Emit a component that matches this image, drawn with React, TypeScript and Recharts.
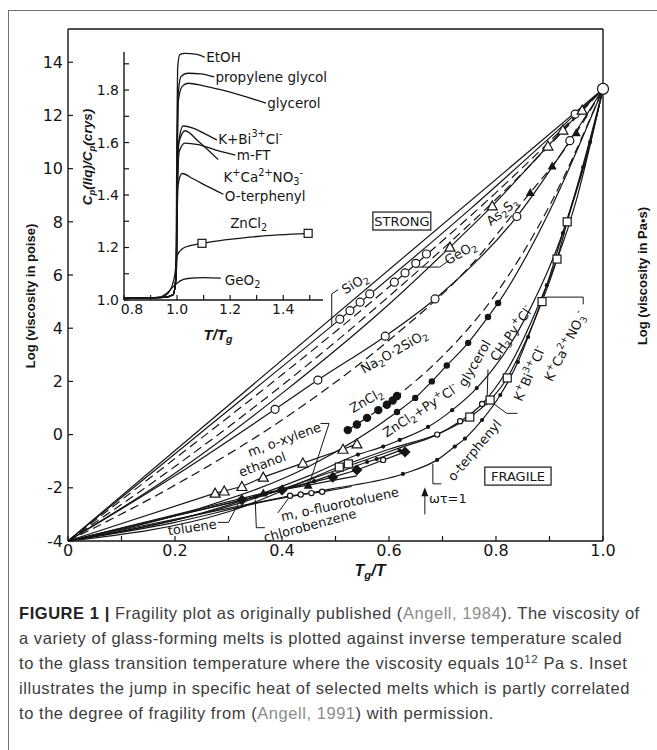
import React from "react";
import { ComposedChart, Line, Scatter, XAxis, YAxis } from "recharts";

type Pt = { x: number; y: number };
type Note = { x: number; y: number; text: string; angle?: number; box?: boolean };

const INK = "#161616";
const FONT = "'DejaVu Sans', sans-serif";

// ---------- main plot: log viscosity (poise) vs Tg/T ----------
const X_TICKS = [0, 0.1, 0.2, 0.3, 0.4, 0.5, 0.6, 0.7, 0.8, 0.9, 1.0];
const POISE_TICKS = [-4, -2, 0, 2, 4, 6, 8, 10, 12, 14];
const PAS_TICKS = [-4, -2, 0, 2, 4, 6, 8, 10, 12];
const POISE_TOP = 15.25;

// curves (log poise)
const STRAIGHT: Pt[] = [{ x: 0, y: -4 }, { x: 1, y: 13 }];
const SIO2_LINE: Pt[] = [{ x: 0, y: -4 }, { x: 0.25, y: 0.1 }, { x: 0.5, y: 4.2 }, { x: 0.75, y: 8.45 }, { x: 1, y: 13 }];
const GEO2_LINE: Pt[] = [{ x: 0, y: -4 }, { x: 0.2, y: -0.9 }, { x: 0.4, y: 2.25 }, { x: 0.6, y: 5.55 }, { x: 0.8, y: 9.1 }, { x: 1, y: 13 }];
const DASH_B: Pt[] = [{ x: 0, y: -4 }, { x: 0.2, y: -1.2 }, { x: 0.4, y: 1.85 }, { x: 0.6, y: 5.2 }, { x: 0.8, y: 8.85 }, { x: 1, y: 13 }];
const TRI_LINE: Pt[] = [{ x: 0, y: -4 }, { x: 0.2, y: -1.45 }, { x: 0.4, y: 1.55 }, { x: 0.6, y: 4.9 }, { x: 0.714, y: 7.05 }, { x: 0.793, y: 8.6 }, { x: 0.897, y: 10.85 }, { x: 0.961, y: 12.2 }, { x: 1, y: 13 }];
const NA_LINE: Pt[] = [{ x: 0, y: -4 }, { x: 0.2, y: -1.55 }, { x: 0.387, y: 0.95 }, { x: 0.467, y: 2.05 }, { x: 0.593, y: 3.7 }, { x: 0.686, y: 5.1 }, { x: 0.839, y: 8.2 }, { x: 0.938, y: 11.05 }, { x: 1, y: 13 }];
const AS_LINE: Pt[] = [{ x: 0, y: -4 }, { x: 0.2, y: -1.9 }, { x: 0.4, y: 0.55 }, { x: 0.6, y: 3.55 }, { x: 0.75, y: 6.3 }, { x: 0.864, y: 9.1 }, { x: 0.905, y: 10.1 }, { x: 0.95, y: 11.35 }, { x: 1, y: 13 }];
const ZN_LINE: Pt[] = [{ x: 0.523, y: 0.17 }, { x: 0.615, y: 1.45 }, { x: 0.7, y: 2.95 }, { x: 0.8, y: 5.3 }, { x: 0.9, y: 8.6 }, { x: 1, y: 13 }];
const GLY_LINE: Pt[] = [{ x: 0, y: -4 }, { x: 0.25, y: -2.75 }, { x: 0.45, y: -1.2 }, { x: 0.615, y: 0.85 }, { x: 0.649, y: 1.38 }, { x: 0.68, y: 2.0 }, { x: 0.708, y: 2.6 }, { x: 0.748, y: 3.45 }, { x: 0.785, y: 4.42 }, { x: 0.804, y: 4.95 }, { x: 0.9, y: 8.4 }, { x: 1, y: 13 }];
const PYCL_LINE: Pt[] = [{ x: 0, y: -4 }, { x: 0.25, y: -2.95 }, { x: 0.45, y: -1.55 }, { x: 0.542, y: -0.75 }, { x: 0.589, y: -0.45 }, { x: 0.62, y: -0.2 }, { x: 0.673, y: 0.29 }, { x: 0.718, y: 0.92 }, { x: 0.764, y: 1.75 }, { x: 0.85, y: 4.2 }, { x: 0.93, y: 7.9 }, { x: 1, y: 13 }];
const CH3_LINE: Pt[] = [{ x: 0, y: -4 }, { x: 0.3, y: -2.7 }, { x: 0.5, y: -1.35 }, { x: 0.62, y: -0.5 }, { x: 0.69, y: 0.0 }, { x: 0.733, y: 0.5 }, { x: 0.774, y: 1.15 }, { x: 0.82, y: 2.4 }, { x: 0.88, y: 4.9 }, { x: 0.95, y: 8.8 }, { x: 1, y: 13 }];
const KCA_LINE: Pt[] = [{ x: 0, y: -4 }, { x: 0.3, y: -2.9 }, { x: 0.507, y: -1.22 }, { x: 0.6, y: -0.55 }, { x: 0.7, y: 0.1 }, { x: 0.751, y: 0.66 }, { x: 0.789, y: 1.3 }, { x: 0.821, y: 2.13 }, { x: 0.855, y: 3.5 }, { x: 0.886, y: 5.0 }, { x: 0.914, y: 6.6 }, { x: 0.933, y: 8.0 }, { x: 0.97, y: 10.5 }, { x: 1, y: 13 }];
const OTP_LINE: Pt[] = [{ x: 0, y: -4 }, { x: 0.2, y: -3.3 }, { x: 0.359, y: -2.55 }, { x: 0.49, y: -2.05 }, { x: 0.626, y: -1.48 }, { x: 0.69, y: -0.95 }, { x: 0.723, y: -0.45 }, { x: 0.742, y: -0.15 }, { x: 0.774, y: 0.55 }, { x: 0.808, y: 1.49 }, { x: 0.841, y: 2.73 }, { x: 0.86, y: 3.67 }, { x: 0.895, y: 5.62 }, { x: 0.925, y: 7.58 }, { x: 0.963, y: 10.06 }, { x: 0.976, y: 11.0 }, { x: 1, y: 13 }];
const ETH_LINE: Pt[] = [{ x: 0, y: -4 }, { x: 0.275, y: -2.2 }, { x: 0.292, y: -2.12 }, { x: 0.325, y: -1.95 }, { x: 0.365, y: -1.6 }, { x: 0.439, y: -1.07 }, { x: 0.514, y: -0.55 }, { x: 0.54, y: -0.35 }];
const XYL_LINE: Pt[] = [{ x: 0, y: -4 }, { x: 0.365, y: -2.2 }, { x: 0.449, y: -1.9 }, { x: 0.54, y: -1.55 }];
const TOL_LINE: Pt[] = [{ x: 0, y: -4 }, { x: 0.325, y: -2.46 }, { x: 0.4, y: -2.08 }, { x: 0.495, y: -1.6 }, { x: 0.54, y: -1.33 }, { x: 0.63, y: -0.65 }];
const CHL_LINE: Pt[] = [{ x: 0, y: -4 }, { x: 0.35, y: -2.35 }, { x: 0.46, y: -1.75 }, { x: 0.559, y: -1.03 }, { x: 0.577, y: -0.92 }, { x: 0.62, y: -0.6 }];
const FLU_LINE: Pt[] = [{ x: 0, y: -4 }, { x: 0.415, y: -2.3 }, { x: 0.475, y: -2.15 }, { x: 0.53, y: -1.95 }];

// measured points
const SIO2_PTS: Pt[] = [{ x: 0.508, y: 4.34 }, { x: 0.527, y: 4.66 }, { x: 0.546, y: 4.98 }, { x: 0.564, y: 5.29 }, { x: 0.948, y: 12.05 }];
const TG_PT: Pt[] = [{ x: 1, y: 13 }];
const GEO2_PTS: Pt[] = [{ x: 0.61, y: 5.73 }, { x: 0.63, y: 6.08 }, { x: 0.65, y: 6.44 }, { x: 0.67, y: 6.79 }];
const TRI_PTS: Pt[] = [{ x: 0.714, y: 7.05 }, { x: 0.793, y: 8.6 }, { x: 0.897, y: 10.85 }, { x: 0.925, y: 11.45 }, { x: 0.961, y: 12.2 }];
const NA_PTS: Pt[] = [{ x: 0.387, y: 0.95 }, { x: 0.467, y: 2.05 }, { x: 0.593, y: 3.7 }, { x: 0.686, y: 5.1 }, { x: 0.839, y: 8.2 }, { x: 0.938, y: 11.05 }];
const AS_PTS: Pt[] = [{ x: 0.864, y: 9.1 }, { x: 0.905, y: 10.1 }, { x: 0.95, y: 11.35 }];
const ZN_PTS: Pt[] = [{ x: 0.523, y: 0.17 }, { x: 0.54, y: 0.38 }, { x: 0.559, y: 0.63 }, { x: 0.58, y: 0.92 }, { x: 0.596, y: 1.12 }, { x: 0.607, y: 1.28 }, { x: 0.615, y: 1.45 }];
const GLY_PTS: Pt[] = [{ x: 0.615, y: 0.85 }, { x: 0.649, y: 1.38 }, { x: 0.68, y: 2.0 }, { x: 0.708, y: 2.6 }, { x: 0.748, y: 3.45 }, { x: 0.785, y: 4.42 }, { x: 0.804, y: 4.95 }];
const PYCL_PTS: Pt[] = [{ x: 0.542, y: -0.75 }, { x: 0.589, y: -0.45 }, { x: 0.62, y: -0.2 }, { x: 0.673, y: 0.29 }, { x: 0.718, y: 0.92 }, { x: 0.764, y: 1.75 }];
const CH3_PTS: Pt[] = [{ x: 0.589, y: -0.95 }, { x: 0.69, y: 0.0 }, { x: 0.733, y: 0.5 }, { x: 0.774, y: 1.15 }];
const KCA_PTS: Pt[] = [{ x: 0.507, y: -1.22 }, { x: 0.524, y: -1.1 }, { x: 0.751, y: 0.66 }, { x: 0.789, y: 1.3 }, { x: 0.821, y: 2.13 }, { x: 0.886, y: 5.0 }, { x: 0.914, y: 6.6 }, { x: 0.933, y: 8.0 }];
const OTP_PTS: Pt[] = [{ x: 0.626, y: -1.48 }, { x: 0.69, y: -0.95 }, { x: 0.723, y: -0.45 }, { x: 0.742, y: -0.15 }, { x: 0.774, y: 0.55 }, { x: 0.808, y: 1.49 }, { x: 0.841, y: 2.73 }, { x: 0.86, y: 3.67 }, { x: 0.895, y: 5.62 }, { x: 0.925, y: 7.58 }, { x: 0.963, y: 10.06 }, { x: 0.976, y: 11.0 }];
const ETH_PTS: Pt[] = [{ x: 0.275, y: -2.2 }, { x: 0.292, y: -2.12 }, { x: 0.325, y: -1.95 }, { x: 0.365, y: -1.6 }, { x: 0.439, y: -1.07 }, { x: 0.514, y: -0.55 }, { x: 0.54, y: -0.35 }];
const XYL_PTS: Pt[] = [{ x: 0.365, y: -2.2 }, { x: 0.449, y: -1.9 }];
const TOL_PTS: Pt[] = [{ x: 0.325, y: -2.46 }, { x: 0.4, y: -2.08 }, { x: 0.495, y: -1.6 }, { x: 0.54, y: -1.33 }, { x: 0.63, y: -0.65 }];
const CHL_PTS: Pt[] = [{ x: 0.35, y: -2.35 }, { x: 0.46, y: -1.75 }, { x: 0.559, y: -1.03 }, { x: 0.577, y: -0.92 }, { x: 0.62, y: -0.6 }];
const FLU_PTS: Pt[] = [{ x: 0.415, y: -2.3 }, { x: 0.435, y: -2.25 }, { x: 0.455, y: -2.2 }, { x: 0.475, y: -2.15 }];

// leader lines and the ωτ=1 arrow
const LEAD_SIO2: Pt[] = [{ x: 0.505, y: 5.45 }, { x: 0.493, y: 5.29 }, { x: 0.493, y: 4.1 }];
const LEAD_GEO2: Pt[] = [{ x: 0.649, y: 6.3 }, { x: 0.695, y: 6.3 }, { x: 0.712, y: 6.55 }];
const LEAD_XYL: Pt[] = [{ x: 0.472, y: 0.42 }, { x: 0.488, y: 0.42 }, { x: 0.452, y: -1.8 }];
const LEAD_TOL: Pt[] = [{ x: 0.28, y: -3.3 }, { x: 0.3, y: -3.3 }, { x: 0.318, y: -2.6 }];
const LEAD_CHL: Pt[] = [{ x: 0.35, y: -2.45 }, { x: 0.352, y: -3.5 }, { x: 0.368, y: -3.5 }];
const LEAD_FLU: Pt[] = [{ x: 0.392, y: -2.95 }, { x: 0.412, y: -2.4 }];
const LEAD_OTP: Pt[] = [{ x: 0.682, y: -1.1 }, { x: 0.682, y: -1.85 }, { x: 0.698, y: -1.85 }];
const LEAD_KCA: Pt[] = [{ x: 0.893, y: 5.17 }, { x: 0.963, y: 5.17 }, { x: 0.963, y: 4.9 }];
const LEAD_KBI: Pt[] = [{ x: 0.786, y: 1.3 }, { x: 0.82, y: 0.8 }, { x: 0.84, y: 0.8 }];
const LEAD_CH3: Pt[] = [{ x: 0.783, y: 1.1 }, { x: 0.785, y: 2.45 }];
const ARROW: Pt[] = [{ x: 0.667, y: -3.0 }, { x: 0.667, y: -2.15 }];
const ARROW_TIP: Pt[] = [{ x: 0.667, y: -2.02 }];

const MAIN_NOTES: Note[] = [
  { x: 0.624, y: 8.03, text: "STRONG", box: true },
  { x: 0.841, y: -1.56, text: "FRAGILE", box: true },
  { x: 0.536, y: 5.7, text: "SiO_{2}", angle: -31 },
  { x: 0.733, y: 6.85, text: "GeO_{2}", angle: -30 },
  { x: 0.811, y: 8.4, text: "As_{2}S_{3}", angle: -38 },
  { x: 0.609, y: 3.14, text: "Na_{2}O·2SiO_{2}", angle: -30 },
  { x: 0.557, y: 1.3, text: "ZnCl_{2}", angle: -30 },
  { x: 0.658, y: 0.92, text: "ZnCl_{2}+Py^{+}Cl^{-}", angle: -33 },
  { x: 0.759, y: 2.69, text: "glycerol", angle: -60 },
  { x: 0.828, y: 3.82, text: "CH_{3}Py^{+}Cl^{-}", angle: -55 },
  { x: 0.862, y: 2.3, text: "K^{+}Bi^{3+}Cl^{-}", angle: -66 },
  { x: 0.929, y: 3.33, text: "K^{+}Ca^{2+}NO_{3}^{-}", angle: -63 },
  { x: 0.759, y: -0.58, text: "o-terphenyl", angle: -50 },
  { x: 0.71, y: -2.38, text: "ωτ=1" },
  { x: 0.404, y: -0.17, text: "m, o-xylene", angle: -20 },
  { x: 0.363, y: -1.1, text: "ethanol", angle: -20 },
  { x: 0.232, y: -3.47, text: "toluene", angle: -8 },
  { x: 0.452, y: -3.4, text: "chlorobenzene", angle: -15 },
  { x: 0.508, y: -2.6, text: "m, o-fluorotoluene", angle: -12 },
];

// ---------- inset: Cp(liq)/Cp(crys) vs T/Tg ----------
const T_TICKS = [0.8, 0.9, 1.0, 1.1, 1.2, 1.3, 1.4, 1.5];
const CP_TICKS = [1.0, 1.1, 1.2, 1.3, 1.4, 1.5, 1.6, 1.7, 1.8, 1.9];

const CP_ETOH: Pt[] = [{ x: 0.8, y: 1.006 }, { x: 0.95, y: 1.01 }, { x: 0.985, y: 1.02 }, { x: 0.996, y: 1.1 }, { x: 0.999, y: 1.6 }, { x: 1.002, y: 1.88 }, { x: 1.01, y: 1.935 }, { x: 1.03, y: 1.94 }, { x: 1.075, y: 1.936 }, { x: 1.105, y: 1.925 }];
const CP_PG: Pt[] = [{ x: 0.8, y: 1.006 }, { x: 0.95, y: 1.01 }, { x: 0.985, y: 1.02 }, { x: 0.997, y: 1.1 }, { x: 1.0, y: 1.5 }, { x: 1.004, y: 1.78 }, { x: 1.015, y: 1.852 }, { x: 1.04, y: 1.864 }, { x: 1.09, y: 1.862 }, { x: 1.14, y: 1.85 }];
const CP_GLY: Pt[] = [{ x: 0.8, y: 1.006 }, { x: 0.95, y: 1.01 }, { x: 0.985, y: 1.02 }, { x: 0.997, y: 1.1 }, { x: 1.0, y: 1.45 }, { x: 1.005, y: 1.76 }, { x: 1.02, y: 1.815 }, { x: 1.042, y: 1.826 }, { x: 1.1, y: 1.816 }, { x: 1.2, y: 1.792 }, { x: 1.335, y: 1.75 }];
const CP_KBI: Pt[] = [{ x: 0.8, y: 1.006 }, { x: 0.95, y: 1.01 }, { x: 0.985, y: 1.02 }, { x: 0.997, y: 1.1 }, { x: 1.0, y: 1.35 }, { x: 1.006, y: 1.6 }, { x: 1.023, y: 1.663 }, { x: 1.06, y: 1.655 }, { x: 1.1, y: 1.636 }, { x: 1.15, y: 1.61 }];
const CP_KCA: Pt[] = [{ x: 0.8, y: 1.006 }, { x: 0.95, y: 1.01 }, { x: 0.985, y: 1.02 }, { x: 0.997, y: 1.1 }, { x: 1.0, y: 1.35 }, { x: 1.007, y: 1.6 }, { x: 1.03, y: 1.645 }, { x: 1.08, y: 1.605 }, { x: 1.155, y: 1.535 }];
const CP_MFT: Pt[] = [{ x: 0.8, y: 1.006 }, { x: 0.95, y: 1.01 }, { x: 0.985, y: 1.02 }, { x: 0.997, y: 1.1 }, { x: 1.0, y: 1.35 }, { x: 1.008, y: 1.565 }, { x: 1.03, y: 1.598 }, { x: 1.08, y: 1.592 }, { x: 1.15, y: 1.57 }, { x: 1.22, y: 1.552 }];
const CP_OTP: Pt[] = [{ x: 0.8, y: 1.006 }, { x: 0.95, y: 1.01 }, { x: 0.985, y: 1.02 }, { x: 0.997, y: 1.1 }, { x: 1.0, y: 1.3 }, { x: 1.004, y: 1.44 }, { x: 1.019, y: 1.482 }, { x: 1.06, y: 1.462 }, { x: 1.12, y: 1.43 }, { x: 1.175, y: 1.403 }];
const CP_ZNCL2: Pt[] = [{ x: 0.8, y: 1.006 }, { x: 0.94, y: 1.01 }, { x: 0.965, y: 1.025 }, { x: 0.98, y: 1.05 }, { x: 0.992, y: 1.1 }, { x: 1.0, y: 1.17 }, { x: 1.02, y: 1.195 }, { x: 1.05, y: 1.207 }, { x: 1.094, y: 1.216 }, { x: 1.3, y: 1.242 }, { x: 1.494, y: 1.254 }];
const CP_GEO2: Pt[] = [{ x: 0.8, y: 1.006 }, { x: 0.93, y: 1.01 }, { x: 0.96, y: 1.025 }, { x: 0.985, y: 1.05 }, { x: 1.01, y: 1.072 }, { x: 1.04, y: 1.082 }, { x: 1.1, y: 1.085 }, { x: 1.165, y: 1.083 }];
const ZNCL2_SQ: Pt[] = [{ x: 1.094, y: 1.216 }, { x: 1.494, y: 1.254 }];

const INSET_NOTES: Note[] = [
  { x: 1.11, y: 1.925, text: "EtOH" },
  { x: 1.145, y: 1.85, text: "propylene glycol" },
  { x: 1.34, y: 1.75, text: "glycerol" },
  { x: 1.155, y: 1.615, text: "K+Bi^{3+}Cl^{-}" },
  { x: 1.225, y: 1.552, text: "m-FT" },
  { x: 1.175, y: 1.47, text: "K^{+}Ca^{2+}NO_{3}^{-}" },
  { x: 1.18, y: 1.397, text: "O-terphenyl" },
  { x: 1.2, y: 1.295, text: "ZnCl_{2}" },
  { x: 1.18, y: 1.076, text: "GeO_{2}" },
];

const MAIN_CURVES = [
  { id: "straight", data: STRAIGHT },
  { id: "sio2", data: SIO2_LINE },
  { id: "geo2", data: GEO2_LINE, dash: "9 5" },
  { id: "dashb", data: DASH_B, dash: "9 5" },
  { id: "tri", data: TRI_LINE },
  { id: "na", data: NA_LINE },
  { id: "as", data: AS_LINE, dash: "9 5" },
  { id: "zn", data: ZN_LINE, dash: "9 5" },
  { id: "gly", data: GLY_LINE },
  { id: "pycl", data: PYCL_LINE },
  { id: "ch3", data: CH3_LINE },
  { id: "kca", data: KCA_LINE },
  { id: "otp", data: OTP_LINE },
  { id: "eth", data: ETH_LINE, linear: true },
  { id: "xyl", data: XYL_LINE, linear: true },
  { id: "tol", data: TOL_LINE, linear: true },
  { id: "chl", data: CHL_LINE, linear: true },
  { id: "flu", data: FLU_LINE, linear: true },
];

const LEADERS = [LEAD_SIO2, LEAD_GEO2, LEAD_XYL, LEAD_TOL, LEAD_CHL, LEAD_FLU, LEAD_OTP, LEAD_KCA, LEAD_KBI, LEAD_CH3, ARROW];

const MAIN_MARKS = [
  { id: "m-sio2", data: SIO2_PTS, kind: "openCircle" },
  { id: "m-geo2", data: GEO2_PTS, kind: "openCircle" },
  { id: "m-tri", data: TRI_PTS, kind: "openTri" },
  { id: "m-na", data: NA_PTS, kind: "openCircle" },
  { id: "m-as", data: AS_PTS, kind: "fillTri" },
  { id: "m-zn", data: ZN_PTS, kind: "dot" },
  { id: "m-gly", data: GLY_PTS, kind: "midDot" },
  { id: "m-pycl", data: PYCL_PTS, kind: "smallDot" },
  { id: "m-ch3", data: CH3_PTS, kind: "smallCircle" },
  { id: "m-kca", data: KCA_PTS, kind: "openSq" },
  { id: "m-otp", data: OTP_PTS, kind: "smallDot" },
  { id: "m-eth", data: ETH_PTS, kind: "openTri" },
  { id: "m-xyl", data: XYL_PTS, kind: "fillTri" },
  { id: "m-tol", data: TOL_PTS, kind: "diamond" },
  { id: "m-chl", data: CHL_PTS, kind: "smallDot" },
  { id: "m-flu", data: FLU_PTS, kind: "smallCircle" },
  { id: "m-tg", data: TG_PT, kind: "bigCircle" },
  { id: "m-arrow", data: ARROW_TIP, kind: "arrow" },
];

const INSET_CURVES = [CP_ETOH, CP_PG, CP_GLY, CP_KBI, CP_KCA, CP_MFT, CP_OTP, CP_ZNCL2, CP_GEO2];

// text with _{sub} and ^{sup}
function rich(text: string, size: number) {
  const parts = text.split(/([_^]\{[^}]*\})/).filter((s) => s !== "");
  let shift = 0;
  return parts.map((part, i) => {
    let target = 0;
    let content = part;
    let fs: number | undefined;
    if (part[0] === "_" || part[0] === "^") {
      target = part[0] === "_" ? size * 0.3 : -size * 0.38;
      content = part.slice(2, -1);
      fs = size * 0.72;
    }
    const dy = target - shift;
    shift = target;
    return (
      <tspan key={i} dy={dy} fontSize={fs}>
        {content}
      </tspan>
    );
  });
}

const markShape = (kind: string) => (props: any) => {
  const { cx, cy } = props;
  if (!Number.isFinite(cx) || !Number.isFinite(cy)) return <g />;
  const s = { stroke: INK, strokeWidth: 1.2 };
  switch (kind) {
    case "openCircle":
      return <circle cx={cx} cy={cy} r={4} fill="#fff" {...s} />;
    case "bigCircle":
      return <circle cx={cx} cy={cy} r={5.5} fill="#fff" {...s} />;
    case "dot":
      return <circle cx={cx} cy={cy} r={4.2} fill={INK} />;
    case "midDot":
      return <circle cx={cx} cy={cy} r={3.2} fill={INK} />;
    case "smallDot":
      return <circle cx={cx} cy={cy} r={2.1} fill={INK} />;
    case "smallCircle":
      return <circle cx={cx} cy={cy} r={2.6} fill="#fff" {...s} />;
    case "openTri":
      return <polygon points={`${cx},${cy - 5} ${cx - 5},${cy + 4} ${cx + 5},${cy + 4}`} fill="#fff" {...s} />;
    case "fillTri":
      return <polygon points={`${cx},${cy - 4.5} ${cx - 4.5},${cy + 3.5} ${cx + 4.5},${cy + 3.5}`} fill={INK} />;
    case "openSq":
      return <rect x={cx - 4} y={cy - 4} width={8} height={8} fill="#fff" {...s} />;
    case "diamond":
      return <polygon points={`${cx},${cy - 5.5} ${cx + 5.5},${cy} ${cx},${cy + 5.5} ${cx - 5.5},${cy}`} fill={INK} />;
    case "arrow":
      return <polygon points={`${cx},${cy - 1} ${cx - 3.5},${cy + 8} ${cx + 3.5},${cy + 8}`} fill={INK} />;
    default:
      return <g />;
  }
};

const noteShape = (size: number, anchor: "middle" | "start") => (props: any) => {
  const { cx, cy } = props;
  const d: Note = props.payload ?? props;
  if (!Number.isFinite(cx) || !Number.isFinite(cy)) return <g />;
  const t = (
    <text
      x={cx}
      y={cy}
      textAnchor={anchor}
      dominantBaseline="central"
      fontSize={size}
      fontFamily={FONT}
      fill={INK}
      transform={d.angle ? `rotate(${d.angle} ${cx} ${cy})` : undefined}
    >
      {rich(d.text, size)}
    </text>
  );
  if (!d.box) return t;
  const w = d.text.length * size * 0.64 + 8;
  const h = size + 5;
  return (
    <g>
      <rect x={cx - w / 2} y={cy - h / 2} width={w} height={h} fill="#fff" stroke={INK} strokeWidth={1.2} />
      {t}
    </g>
  );
};

const fmtX = (v: number) => (Math.round(v * 10) % 2 ? "" : v === 0 ? "0" : v.toFixed(1));
const fmtCp = (v: number) => (Math.round(v * 10) % 2 ? "" : v.toFixed(1));

const insetXTick = (props: any) => {
  const { x, y, payload } = props;
  const v = payload.value as number;
  const label = Math.round(v * 10) % 2 ? "" : v.toFixed(1);
  return (
    <text x={x + (v === 0.8 ? 8 : 0)} y={y} dy="0.71em" textAnchor="middle" fontSize={14} fontFamily={FONT} fill={INK}>
      {label}
    </text>
  );
};

const tickStyle = { fill: INK, fontSize: 16, fontFamily: FONT };
const axisStroke = { stroke: INK, strokeWidth: 1.4 };

function MainPlot() {
  return (
    <div style={{ position: "absolute", left: 0, top: 0 }}>
      <ComposedChart width={657} height={600} margin={{ top: 28, right: 0, bottom: 0, left: 0 }}>
        <XAxis xAxisId="top" orientation="top" type="number" domain={[0, 1]} tick={false} tickLine={false} height={1} axisLine={axisStroke} />
        <XAxis
          xAxisId="x"
          dataKey="x"
          type="number"
          domain={[0, 1]}
          ticks={X_TICKS}
          interval={0}
          tickFormatter={fmtX}
          tickSize={-5}
          tickMargin={9}
          height={59}
          axisLine={axisStroke}
          tickLine={{ stroke: INK, strokeWidth: 1.2 }}
          tick={tickStyle}
        />
        <YAxis
          yAxisId="p"
          type="number"
          domain={[-4, POISE_TOP]}
          ticks={POISE_TICKS}
          interval={0}
          tickSize={-5}
          tickMargin={10}
          width={68}
          axisLine={axisStroke}
          tickLine={{ stroke: INK, strokeWidth: 1.2 }}
          tick={tickStyle}
        />
        <YAxis
          yAxisId="pas"
          orientation="right"
          type="number"
          domain={[-5, POISE_TOP - 1]}
          ticks={PAS_TICKS}
          interval={0}
          tickSize={6}
          tickMargin={2}
          width={54}
          axisLine={axisStroke}
          tickLine={{ stroke: INK, strokeWidth: 1.2 }}
          tick={tickStyle}
        />
        {MAIN_CURVES.map((c) => (
          <Line
            key={c.id}
            data={c.data}
            dataKey="y"
            xAxisId="x"
            yAxisId="p"
            type={c.linear ? "linear" : "monotone"}
            stroke={INK}
            strokeWidth={1.2}
            strokeDasharray={c.dash}
            dot={false}
            activeDot={false}
            legendType="none"
            isAnimationActive={false}
          />
        ))}
        {LEADERS.map((d, i) => (
          <Line
            key={`lead-${i}`}
            data={d}
            dataKey="y"
            xAxisId="x"
            yAxisId="p"
            type="linear"
            stroke={INK}
            strokeWidth={1}
            dot={false}
            activeDot={false}
            legendType="none"
            isAnimationActive={false}
          />
        ))}
        {MAIN_MARKS.map((m) => (
          <Scatter key={m.id} data={m.data} dataKey="y" xAxisId="x" yAxisId="p" shape={markShape(m.kind)} legendType="none" isAnimationActive={false} />
        ))}
        <Scatter data={MAIN_NOTES} dataKey="y" xAxisId="x" yAxisId="p" shape={noteShape(13, "middle")} legendType="none" isAnimationActive={false} />
      </ComposedChart>
    </div>
  );
}

function Inset() {
  return (
    <div style={{ position: "absolute", left: 60, top: 44 }}>
      <ComposedChart width={275} height={300} margin={{ top: 8, right: 12, bottom: 0, left: 0 }}>
        <XAxis
          xAxisId="t"
          dataKey="x"
          type="number"
          domain={[0.8, 1.55]}
          ticks={T_TICKS}
          interval={0}
          tick={insetXTick}
          tickSize={-5}
          tickMargin={9}
          height={44}
          axisLine={axisStroke}
          tickLine={{ stroke: INK, strokeWidth: 1.2 }}
        />
        <YAxis
          yAxisId="c"
          type="number"
          domain={[1.0, 1.945]}
          ticks={CP_TICKS}
          interval={0}
          tickFormatter={fmtCp}
          tickSize={-5}
          tickMargin={10}
          width={64}
          axisLine={axisStroke}
          tickLine={{ stroke: INK, strokeWidth: 1.2 }}
          tick={{ fill: INK, fontSize: 14, fontFamily: FONT }}
        />
        {INSET_CURVES.map((d, i) => (
          <Line
            key={`cp-${i}`}
            data={d}
            dataKey="y"
            xAxisId="t"
            yAxisId="c"
            type="monotone"
            stroke={INK}
            strokeWidth={1.3}
            dot={false}
            activeDot={false}
            legendType="none"
            isAnimationActive={false}
          />
        ))}
        <Scatter data={ZNCL2_SQ} dataKey="y" xAxisId="t" yAxisId="c" shape={markShape("openSq")} legendType="none" isAnimationActive={false} />
        <Scatter data={INSET_NOTES} dataKey="y" xAxisId="t" yAxisId="c" shape={noteShape(13.5, "start")} legendType="none" isAnimationActive={false} />
      </ComposedChart>
    </div>
  );
}

const vtitle = (left: number, top: number, size: number, italic = false): React.CSSProperties => ({
  position: "absolute",
  left,
  top,
  transform: "translate(-50%, -50%) rotate(-90deg)",
  whiteSpace: "nowrap",
  fontWeight: "bold",
  fontStyle: italic ? "italic" : "normal",
  fontSize: size,
  fontFamily: "'Liberation Sans', Arial, sans-serif",
  color: INK,
  lineHeight: 1,
});

const htitle = (left: number, top: number, size: number): React.CSSProperties => ({
  position: "absolute",
  left,
  top,
  transform: "translate(-50%, -50%)",
  whiteSpace: "nowrap",
  fontWeight: "bold",
  fontStyle: "italic",
  fontSize: size,
  fontFamily: "'Liberation Sans', Arial, sans-serif",
  color: INK,
  lineHeight: 1,
});

const sub: React.CSSProperties = { fontSize: "0.7em", verticalAlign: "-0.3em" };
const LINK = "#8c8c8c";

function Caption() {
  const line: React.CSSProperties = { whiteSpace: "nowrap", height: 25 };
  return (
    <div
      style={{
        position: "absolute",
        left: 19,
        top: 601,
        fontFamily: "'Liberation Sans', Arial, sans-serif",
        fontSize: 16.5,
        letterSpacing: "0.55px",
        lineHeight: "25px",
        color: "#3c3c3c",
      }}
    >
      <div style={line}>
        <b style={{ color: "#222" }}>FIGURE 1 |</b> Fragility plot as originally published (<span style={{ color: LINK }}>Angell, 1984</span>). The viscosity of
      </div>
      <div style={line}>a variety of glass-forming melts is plotted against inverse temperature scaled</div>
      <div style={line}>
        to the glass transition temperature where the viscosity equals 10
        <span style={{ fontSize: "0.7em", position: "relative", top: "-0.55em", lineHeight: 0 }}>12</span> Pa s. Inset
      </div>
      <div style={line}>illustrates the jump in specific heat of selected melts which is partly correlated</div>
      <div style={line}>
        to the degree of fragility from (<span style={{ color: LINK }}>Angell, 1991</span>) with permission.
      </div>
    </div>
  );
}

export default function App() {
  return (
    <div
      style={{
        position: "absolute",
        left: 0,
        top: 0,
        width: 657,
        height: 750,
        overflow: "hidden",
        background: "#fff",
        fontFamily: FONT,
        color: INK,
      }}
    >
      <div style={{ position: "absolute", left: 8, top: 10, width: 700, height: 800, border: "1px solid #707070" }} />
      <MainPlot />
      <Inset />
      <div style={vtitle(30, 296, 13)}>Log (viscosity in poise)</div>
      <div style={vtitle(642, 276, 13)}>Log (viscosity in Pa•s)</div>
      <div style={htitle(370, 572, 16)}>
        T<span style={sub}>g</span>/T
      </div>
      <div style={vtitle(89, 157, 13.5, true)}>
        C<span style={sub}>p</span>(liq)/C<span style={sub}>p</span>(crys)
      </div>
      <div style={htitle(218, 336, 15)}>
        T/T<span style={sub}>g</span>
      </div>
      <Caption />
    </div>
  );
}
